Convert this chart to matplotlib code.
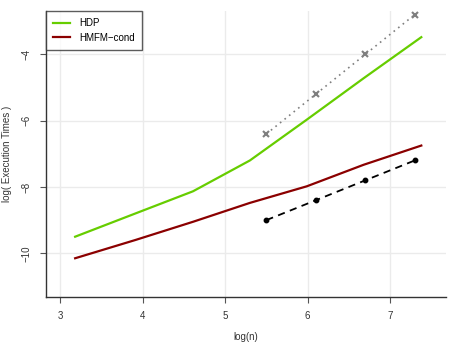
import matplotlib
matplotlib.use('Agg')
import numpy as np
import matplotlib.pyplot as plt

# ── Data ──────────────────────────────────────────────────────────────────────
log_n      = [3.18, 3.91, 4.61, 5.30, 5.99, 6.68, 7.38]
hdp        = [-9.50, -8.80, -8.13, -7.20, -5.97, -4.72, -3.48]
hmfm_cond  = [-10.15, -9.60, -9.05, -8.48, -7.98, -7.33, -6.75]

ref_x      = [5.5, 6.1, 6.7, 7.3]
ref_slope2 = [-6.4, -5.2, -4.0, -2.8]   # grey crosses, dotted
ref_slope1 = [-9.0, -8.4, -7.8, -7.2]   # black dots, dashed

x_ticks = [3, 4, 5, 6, 7]
y_ticks = [-10, -8, -6, -4]

plt.rcParams['font.family'] = ['Liberation Sans', 'DejaVu Sans']

fig = plt.figure(figsize=(4.57, 3.43), dpi=100)
ax = fig.add_axes([0.10, 0.134, 0.876, 0.834])

ax.plot(log_n, hdp, color='#66CD00', lw=1.6, label='HDP', zorder=3)
ax.plot(log_n, hmfm_cond, color='#8B0000', lw=1.6, label='HMFM\u2212cond', zorder=3)
ax.plot(ref_x, ref_slope2, color='#7F7F7F', ls=(0, (1, 2.5)), lw=1.2,
        marker='x', ms=4, mew=1.5, zorder=3)
ax.plot(ref_x, ref_slope1, color='black', ls=(0, (4, 3)), lw=1.3,
        marker='o', ms=3.2, zorder=3)

ax.set_xlim(2.823, 7.68)
ax.set_ylim(-11.32, -2.69)
ax.set_xticks(x_ticks)
ax.set_yticks(y_ticks)
ax.grid(True, color='#EBEBEB', lw=1.0, zorder=0)
ax.set_axisbelow(True)

for s in ['top', 'right']:
    ax.spines[s].set_visible(False)
for s in ['left', 'bottom']:
    ax.spines[s].set_color('#333333')
    ax.spines[s].set_linewidth(1.0)

ax.tick_params(axis='both', direction='out', length=4, width=0.8,
               color='#555555', labelsize=7, labelcolor='#333333', pad=6)
for lab in ax.get_yticklabels():
    lab.set_rotation(90)
    lab.set_va('center')

ax.set_xlabel('log(n)', fontsize=7, color='#333333', labelpad=8)
ax.set_ylabel('log( Execution Times )', fontsize=7, color='#333333', labelpad=7)

leg = ax.legend(loc='upper left', bbox_to_anchor=(0, 1), fontsize=7,
                frameon=True, fancybox=False, borderaxespad=0,
                handlelength=1.8, handletextpad=0.9, borderpad=0.75,
                labelspacing=0.45)
leg.get_frame().set_edgecolor('#333333')
leg.get_frame().set_linewidth(1.0)

fig.savefig('out.png', dpi=100)
